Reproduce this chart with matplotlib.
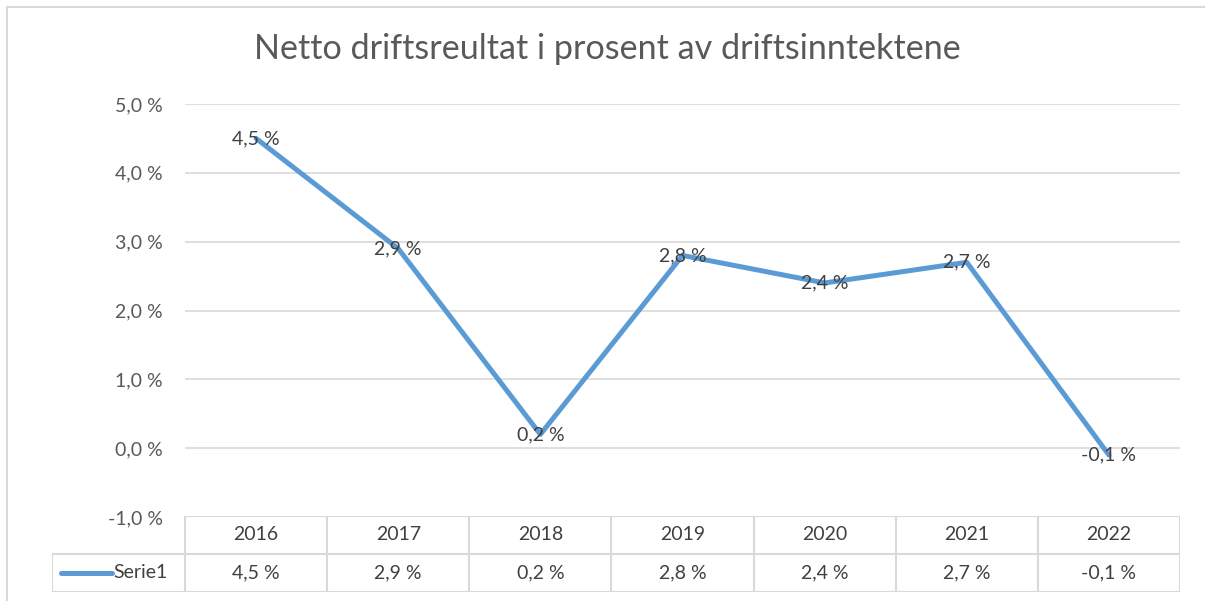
import matplotlib
matplotlib.use("Agg")
import matplotlib.pyplot as plt
from matplotlib.lines import Line2D

years = ["2016", "2017", "2018", "2019", "2020", "2021", "2022"]
values = [4.5, 2.9, 0.2, 2.8, 2.4, 2.7, -0.1]
series_name = "Serie1"
title = "Netto driftsreultat i prosent av driftsinntektene"
yticks = [-1.0, 0.0, 1.0, 2.0, 3.0, 4.0, 5.0]

def fmt(v):
    return f"{v:.1f}".replace(".", ",") + " %"

W, H = 1205, 601
fig = plt.figure(figsize=(W / 100, H / 100), dpi=100)
fig.patch.set_facecolor("white")

plt.rcParams['font.family'] = ['Lato', 'DejaVu Sans']
LINE = "#5B9BD5"
GRID = "#D9D9D9"
TXT = "#404040"
TICK = "#595959"
FS = 14

def px(x0, y0, x1, y1):
    return [x0 / W, 1 - y1 / H, (x1 - x0) / W, (y1 - y0) / H]

# outer chart border (top & left visible)
fig.add_artist(Line2D([7 / W, 7 / W], [0, 1 - 7 / H], color="#D9D9D9", lw=1.5))
fig.add_artist(Line2D([7 / W, 1], [1 - 7 / H, 1 - 7 / H], color="#D9D9D9", lw=1.5))

# main axes
ax = fig.add_axes(px(185, 104, 1180, 517))
x = list(range(len(years)))
ax.plot(x, values, color=LINE, lw=3.6, solid_capstyle="round", solid_joinstyle="round", zorder=3)
ax.set_xlim(-0.5, len(years) - 0.5)
ax.set_ylim(-1, 5)
ax.set_yticks(yticks)
ax.set_yticklabels([fmt(v) for v in yticks], fontsize=FS, color=TICK)
ax.tick_params(axis="y", length=0, pad=16)
ax.set_xticks([])
for s in ax.spines.values():
    s.set_visible(False)
for t in yticks[1:]:
    ax.axhline(t, color=GRID, lw=1.2, zorder=1)
for xi, v in zip(x, values):
    ax.text(xi, v, fmt(v), ha="center", va="center", fontsize=FS, color=TXT, zorder=4)

fig.text(0.504, 1 - 49 / H, title, ha="center", va="center", fontsize=24.6,
         color="#595959")

# data table
legw = (185 - 52) / ((1180 - 185) / len(years))
tab = fig.add_axes(px(52, 516, 1180, 592))
tab.set_xlim(-0.5 - legw, len(years) - 0.5)
tab.set_ylim(0, 2)
tab.axis("off")
kw = dict(color=GRID, lw=1.5, solid_capstyle="projecting")
tab.plot([-0.5, len(years) - 0.5], [2, 2], **kw)
tab.plot([-0.5 - legw, len(years) - 0.5], [1, 1], **kw)
tab.plot([-0.5 - legw, len(years) - 0.5], [0, 0], **kw)
tab.plot([-0.5 - legw, -0.5 - legw], [0, 1], **kw)
for i in range(len(years) + 1):
    tab.plot([i - 0.5, i - 0.5], [0, 2], **kw)
for xi, (yr, v) in enumerate(zip(years, values)):
    tab.text(xi, 1.5, yr, ha="center", va="center", fontsize=FS, color=TXT)
    tab.text(xi, 0.5, fmt(v), ha="center", va="center", fontsize=FS, color=TXT)
lx0 = -0.5 - legw + 0.06
lx1 = -0.5 - legw + 0.42
tab.plot([lx0, lx1], [0.5, 0.5], color=LINE, lw=3.6, solid_capstyle="round")
tab.text(lx1 + 0.01, 0.5, series_name, ha="left", va="center", fontsize=FS, color=TXT)

fig.savefig("out.png", dpi=100, facecolor="white")
